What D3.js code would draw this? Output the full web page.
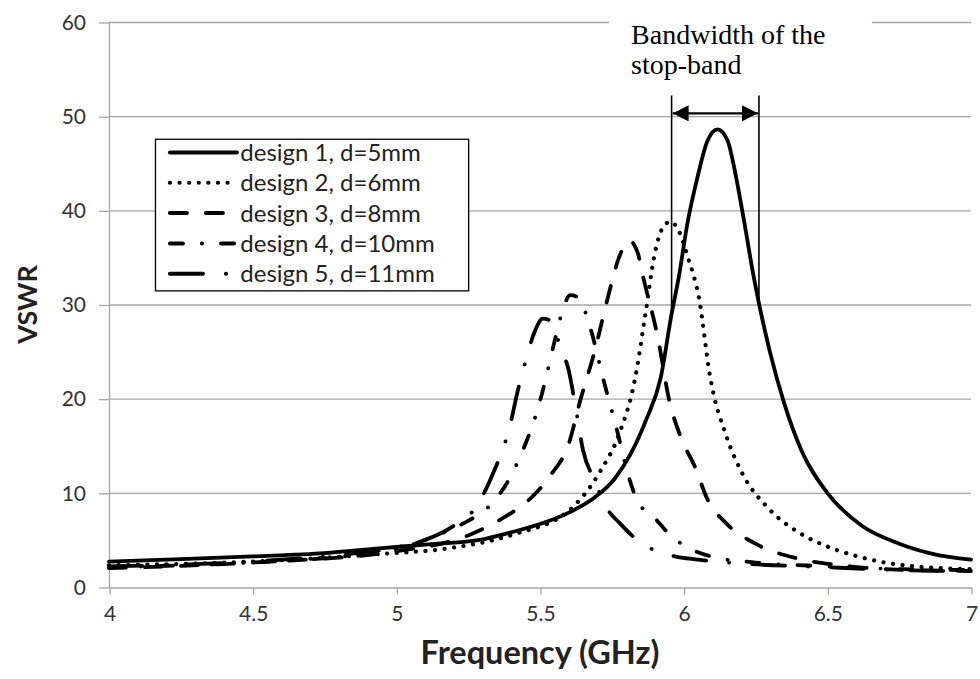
<!DOCTYPE html>
<html>
<head>
<meta charset="utf-8">
<script src="https://cdn.jsdelivr.net/npm/d3@7"></script>
<style>
  body { margin: 0; background: #fff; }
  svg { display: block; }
  .tick text { font-family: Lato, "Open Sans", sans-serif; font-size: 21px; fill: #333; }
</style>
</head>
<body>
<div id="chart"></div>
<script>
// tick labels
const xTicks = [4, 4.5, 5, 5.5, 6, 6.5, 7];
const yTicks = [0, 10, 20, 30, 40, 50, 60];

// design 1, d=5mm (solid)
const freq1 = [4.0, 4.25, 4.5, 4.75, 4.94, 5.1, 5.29, 5.4, 5.53, 5.6, 5.69, 5.76, 5.815, 5.87, 5.92, 5.958, 5.983, 6.013, 6.048, 6.083, 6.118, 6.153, 6.18, 6.21, 6.244, 6.26, 6.3, 6.35, 6.41, 6.5, 6.62, 6.75, 6.87, 7.0];
const vswr1 = [2.7, 2.95, 3.25, 3.6, 4.1, 4.5, 5.0, 5.8, 7.0, 7.9, 9.5, 11.5, 14.1, 17.8, 22.2, 29, 32.9, 38.6, 43.5, 47.4, 48.6, 47.4, 43.9, 38.9, 32.9, 30.4, 25, 19.5, 14.5, 10, 6.5, 4.6, 3.5, 2.9];

// design 2, d=6mm (dotted)
const freq2 = [4.0, 4.5, 4.94, 5.18, 5.41, 5.6, 5.71, 5.78, 5.83, 5.865, 5.9, 5.93, 5.955, 5.98, 6.015, 6.055, 6.09, 6.15, 6.2, 6.3, 6.4, 6.5, 6.6, 6.7, 6.8, 6.9, 7.0];
const vswr2 = [2.3, 2.7, 3.5, 4.1, 5.6, 8.1, 12.3, 16.6, 22, 28.6, 35.5, 38.3, 38.8, 38, 35, 30.4, 22.7, 15.9, 12.3, 8.2, 5.8, 4.3, 3.3, 2.6, 2.2, 2.0, 1.9];

// design 3, d=8mm (dashed)
const freq3 = [4.0, 4.5, 5.0, 5.26, 5.37, 5.47, 5.54, 5.6, 5.64, 5.69, 5.735, 5.775, 5.81, 5.84, 5.86, 5.91, 5.95, 5.99, 6.04, 6.08, 6.15, 6.25, 6.4, 6.55, 6.7, 7.0];
const vswr3 = [2.0, 2.6, 3.8, 5.6, 7.3, 9.5, 12, 15.2, 19.8, 25, 30.6, 35, 36.8, 35.5, 32.8, 26.5, 19.8, 15.9, 12.7, 9.5, 6.7, 4.6, 3.0, 2.3, 1.9, 1.7];

// design 4, d=10mm (dash-dot)
const freq4 = [4.0, 4.5, 4.8, 5.0, 5.15, 5.23, 5.33, 5.39, 5.44, 5.49, 5.51, 5.55, 5.58, 5.605, 5.63, 5.65, 5.68, 5.72, 5.77, 5.805, 5.84, 5.9, 5.95, 6.02, 6.1, 6.25, 6.5, 6.75, 7.0];
const vswr4 = [2.1, 2.6, 3.2, 4.0, 5.6, 6.7, 8.8, 11.3, 14.5, 18.7, 20.9, 26, 29.5, 31, 30.8, 29.8, 27, 22.1, 16.4, 12.1, 9.1, 7.3, 5.6, 4.1, 3.2, 2.6, 2.2, 1.9, 1.8];

// design 5, d=11mm (long dash-dot)
const freq5 = [4.0, 4.5, 4.8, 5.0, 5.1, 5.19, 5.29, 5.33, 5.4, 5.42, 5.45, 5.48, 5.51, 5.54, 5.57, 5.6, 5.62, 5.65, 5.69, 5.73, 5.78, 5.83, 5.885, 5.95, 6.05, 6.2, 6.5, 6.75, 7.0];
const vswr5 = [2.2, 2.7, 3.4, 4.2, 5.0, 6.3, 9.1, 11.6, 17.7, 20.5, 24, 27, 28.5, 28.2, 25.5, 23, 19.8, 14.5, 11.3, 8.5, 6.7, 5.2, 4.1, 3.4, 2.9, 2.5, 2.1, 1.8, 1.7];

const seriesNames = ["design 1, d=5mm", "design 2, d=6mm", "design 3, d=8mm", "design 4, d=10mm", "design 5, d=11mm"];

// stop-band annotation (GHz)
const bandLo = 5.958, bandHi = 6.262;

const series = [
  {name: seriesNames[0], f: freq1, v: vswr1, dash: null},
  {name: seriesNames[1], f: freq2, v: vswr2, dash: "0.1,9.5"},
  {name: seriesNames[2], f: freq3, v: vswr3, dash: "17,19"},
  {name: seriesNames[3], f: freq4, v: vswr4, dash: "13,19,0.1,19"},
  {name: seriesNames[4], f: freq5, v: vswr5, dash: "33,23,0.1,23"}
];

const W = 980, H = 679;
const margin = {top: 22, right: 9, bottom: 92, left: 109};

const svg = d3.select("#chart").append("svg")
  .attr("width", W).attr("height", H);

const x = d3.scaleLinear().domain([4, 7]).range([margin.left, W - margin.right]);
const y = d3.scaleLinear().domain([0, 60]).range([H - margin.bottom, margin.top]);

const gridColor = "#a6a6a6";

// horizontal gridlines
svg.append("g")
  .selectAll("line")
  .data(yTicks.filter(t => t > 0))
  .join("line")
    .attr("x1", x(4)).attr("x2", x(7))
    .attr("y1", d => y(d) + 0.5).attr("y2", d => y(d) + 0.5)
    .attr("stroke", gridColor).attr("stroke-width", 1.3);

// y axis
const yAxis = svg.append("g")
  .attr("transform", `translate(${x(4)},0.5)`)
  .call(d3.axisLeft(y).tickValues(yTicks).tickSize(10).tickPadding(13).tickSizeOuter(0));
yAxis.selectAll("path, line").attr("stroke", gridColor).attr("stroke-width", 1.3);

// x axis
const xAxis = svg.append("g")
  .attr("transform", `translate(0.5,${y(0) + 0.5})`)
  .call(d3.axisBottom(x).tickValues(xTicks).tickSize(7).tickPadding(12).tickSizeOuter(0)
    .tickFormat(d3.format("")));
xAxis.selectAll("path, line").attr("stroke", gridColor).attr("stroke-width", 1.3);

// white box behind annotation text
svg.append("rect")
  .attr("x", x(5.74)).attr("y", y(61.5))
  .attr("width", x(6.655) - x(5.74)).attr("height", y(54) - y(61.5))
  .attr("fill", "#fff");

// curves
const line = d3.line()
  .x(d => x(d[0]))
  .y(d => y(d[1]))
  .curve(d3.curveMonotoneX);

svg.append("g")
  .selectAll("path")
  .data(series)
  .join("path")
    .attr("d", s => line(s.f.map((f, i) => [f, s.v[i]])))
    .attr("fill", "none")
    .attr("stroke", "#000")
    .attr("stroke-width", s => s.dash && s.dash.startsWith("0.1") ? 4.2 : 3.8)
    .attr("stroke-linecap", "round")
    .attr("stroke-linejoin", "round")
    .attr("stroke-dasharray", s => s.dash);

// stop-band markers
svg.append("line")
  .attr("x1", x(bandLo)).attr("x2", x(bandLo))
  .attr("y1", y(52.2)).attr("y2", y(29.1))
  .attr("stroke", "#000").attr("stroke-width", 1.6);
svg.append("line")
  .attr("x1", x(bandHi)).attr("x2", x(bandHi))
  .attr("y1", y(52.2)).attr("y2", y(30.2))
  .attr("stroke", "#000").attr("stroke-width", 1.6);

const defs = svg.append("defs");
defs.append("marker")
  .attr("id", "arrow")
  .attr("viewBox", "0 0 16 16")
  .attr("refX", 16).attr("refY", 8)
  .attr("markerWidth", 16).attr("markerHeight", 16)
  .attr("markerUnits", "userSpaceOnUse")
  .attr("orient", "auto-start-reverse")
  .append("path")
    .attr("d", "M0,0 L16,8 L0,16 Z")
    .attr("fill", "#000");

svg.append("line")
  .attr("x1", x(bandLo) + 1).attr("x2", x(bandHi) - 1)
  .attr("y1", y(50.3)).attr("y2", y(50.3))
  .attr("stroke", "#000").attr("stroke-width", 2.2)
  .attr("marker-start", "url(#arrow)")
  .attr("marker-end", "url(#arrow)");

const note = svg.append("text")
  .attr("font-family", "'Liberation Serif', 'Times New Roman', serif")
  .attr("font-size", 28)
  .attr("fill", "#000");
note.append("tspan").attr("x", x(5.817)).attr("y", y(57.7)).text("Bandwidth of the");
note.append("tspan").attr("x", x(5.817)).attr("y", y(54.5)).text("stop-band");

// legend
const legend = svg.append("g");
const lgX0 = x(4.16), lgX1 = x(5.25);
const lgTop = y(47.6), lgBottom = y(31.5);
legend.append("rect")
  .attr("x", lgX0 + 0.5).attr("y", lgTop + 0.5)
  .attr("width", lgX1 - lgX0).attr("height", lgBottom - lgTop)
  .attr("fill", "#fff").attr("stroke", "#000").attr("stroke-width", 1.3);

const rowH = (lgBottom - lgTop) / series.length;
const rows = legend.selectAll("g.row")
  .data(series)
  .join("g")
    .attr("class", "row")
    .attr("transform", (d, i) => `translate(0,${lgTop + rowH * (i + 0.45)})`);

rows.append("line")
  .attr("x1", x(4.212)).attr("x2", x(4.445))
  .attr("y1", 0).attr("y2", 0)
  .attr("stroke", "#000")
  .attr("stroke-width", s => s.dash && s.dash.startsWith("0.1") ? 4.2 : 4)
  .attr("stroke-linecap", "round")
  .attr("stroke-dasharray", s => s.dash);

rows.append("text")
  .attr("x", x(4.457))
  .attr("dy", "0.36em")
  .attr("font-family", "Lato, 'Open Sans', sans-serif")
  .attr("font-size", 24)
  .attr("fill", "#222")
  .text(s => s.name);

// axis titles
svg.append("text")
  .attr("x", (x(4) + x(7)) / 2).attr("y", 664)
  .attr("text-anchor", "middle")
  .attr("font-family", "Lato, 'Open Sans', sans-serif")
  .attr("font-weight", "bold").attr("font-size", 32.5)
  .attr("fill", "#222")
  .text("Frequency (GHz)");

svg.append("text")
  .attr("transform", `translate(37,${(y(0) + y(60)) / 2}) rotate(-90)`)
  .attr("text-anchor", "middle")
  .attr("font-family", "Lato, 'Open Sans', sans-serif")
  .attr("font-weight", "bold").attr("font-size", 27)
  .attr("fill", "#222")
  .text("VSWR");
</script>
</body>
</html>
